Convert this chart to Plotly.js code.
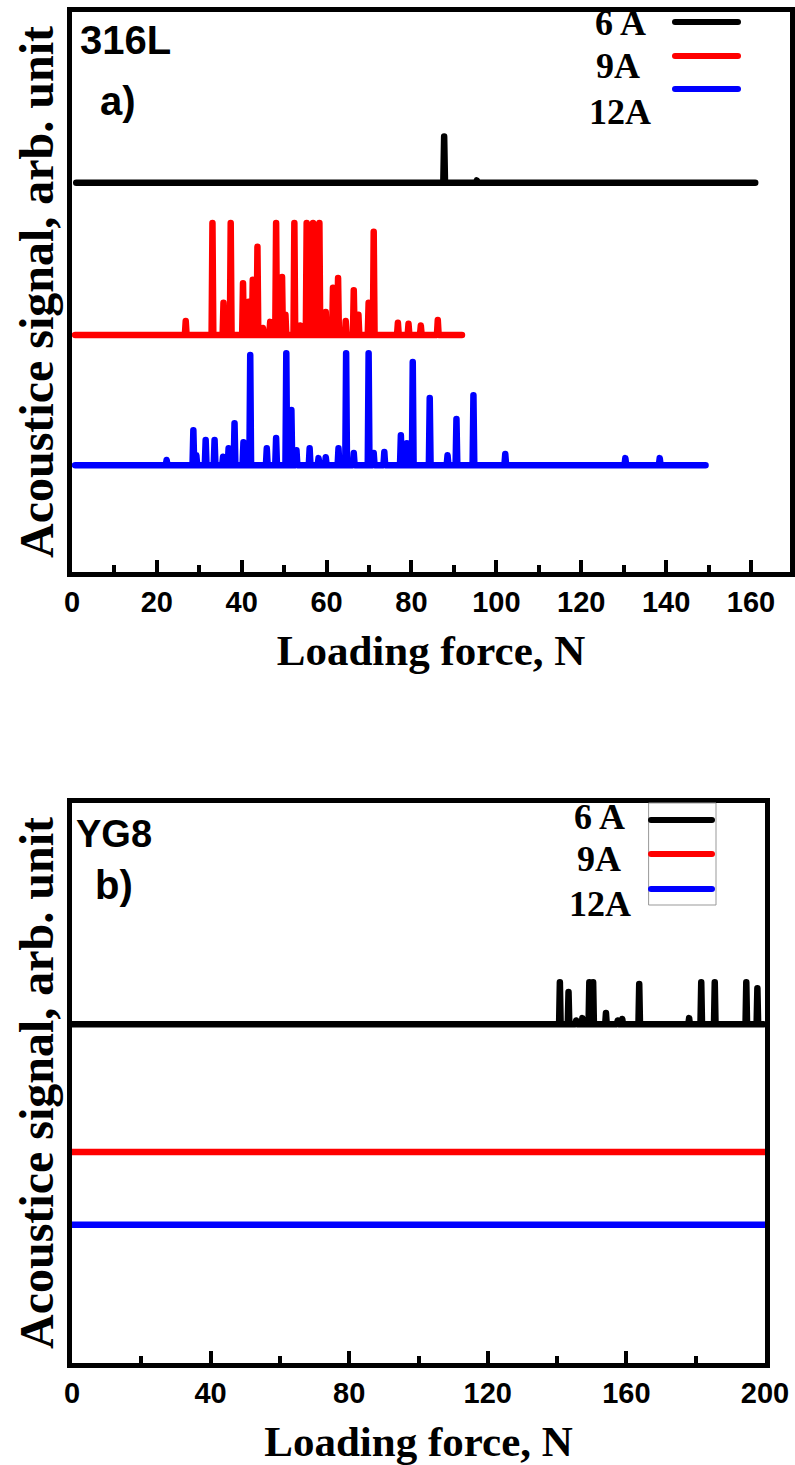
<!DOCTYPE html>
<html><head><meta charset="utf-8">
<script src="https://cdn.plot.ly/plotly-3.0.1.min.js"></script>
<style>
html,body{margin:0;padding:0;background:#fff;}
#chart{width:795px;height:1465px;}
path.js-line{stroke-linejoin:round !important;stroke-linecap:round !important;}
.shapelayer path{stroke-linecap:round;}
</style></head><body><div id="chart"></div>
<script>
// ---------- Panel a) 316L ----------
const a_label = '316L';
const a_tag = 'a)';
const a_xRange = [0, 169.2];
const a_yRange = [0, 12];
const a_6A_span = [1.0, 161.0];
const a_6A_base = 8.34;
const a_6A_force = [87.7, 95.4];
const a_6A_amp   = [0.99, 0.05];
const a_9A_span = [0.7, 91.9];
const a_9A_base = 5.08;
const a_9A_force = [26.8, 33.1, 35.7, 37.4, 40.3, 41.6, 42.6, 43.7, 45.0, 46.7, 48.1, 49.5, 50.3, 52.4, 53.8, 55.3, 56.8, 58.3, 59.8, 61.5, 62.7, 64.5, 66.4, 67.5, 69.9, 71.1, 76.8, 79.3, 82.2, 86.2];
const a_9A_amp   = [0.30, 2.40, 0.69, 2.40, 1.11, 0.71, 1.18, 1.89, 0.15, 0.28, 2.40, 1.24, 0.43, 2.40, 0.20, 2.40, 2.40, 2.40, 0.49, 1.01, 1.22, 0.30, 0.96, 0.43, 0.69, 2.21, 0.26, 0.24, 0.20, 0.32];
const a_12A_span = [0.7, 149.3];
const a_12A_base = 2.29;
const a_12A_force = [22.3, 28.6, 29.3, 31.5, 33.6, 35.6, 36.9, 38.3, 40.4, 42.0, 45.9, 48.1, 50.5, 51.7, 52.9, 56.0, 58.1, 59.8, 62.8, 64.6, 66.4, 69.9, 71.1, 73.6, 77.5, 78.9, 80.3, 84.3, 88.5, 90.6, 94.6, 102.1, 130.4, 138.5];
const a_12A_amp   = [0.11, 0.75, 0.21, 0.54, 0.54, 0.18, 0.36, 0.90, 0.49, 2.36, 0.36, 0.58, 2.40, 1.18, 0.32, 0.36, 0.15, 0.17, 0.36, 2.40, 0.26, 2.40, 0.26, 0.28, 0.64, 0.47, 2.21, 1.44, 0.21, 0.99, 1.50, 0.24, 0.15, 0.15];

// ---------- Panel b) YG8 ----------
const b_label = 'YG8';
const b_tag = 'b)';
const b_xRange = [0, 200];
const b_yRange = [0, 12];
const b_6A_span = [0, 199.5];
const b_6A_base = 7.26;
const b_6A_force = [140.8, 143.3, 145.5, 147.3, 149.3, 150.4, 154.1, 157.5, 158.8, 163.7, 178.1, 181.6, 185.5, 194.6, 197.8];
const b_6A_amp   = [0.90, 0.69, 0.08, 0.13, 0.90, 0.90, 0.24, 0.08, 0.11, 0.86, 0.13, 0.90, 0.90, 0.90, 0.77];
const b_9A_span = [0, 200];
const b_9A_base = 4.52;
const b_12A_span = [0, 200];
const b_12A_base = 2.96;

const seriesNames = ['6 A', '9A', '12A'];
const seriesColors = ['#000000', '#ff0000', '#0000ff'];

function build(span, base, force, amp, hw) {
  const xs = [span[0]], ys = [base];
  const idx = (force || []).map((f, i) => i).sort((i, j) => force[i] - force[j]);
  for (const i of idx) {
    xs.push(force[i] - hw, force[i], force[i] + hw);
    ys.push(base, base + amp[i], base);
  }
  xs.push(span[1]); ys.push(base);
  return {x: xs, y: ys};
}

const W = 795, H = 1465;
const px = v => v / W, py = v => 1 - v / H;

const traces = [];
const aData = [
  build(a_6A_span, a_6A_base, a_6A_force, a_6A_amp, 0.2),
  build(a_9A_span, a_9A_base, a_9A_force, a_9A_amp, 0.2),
  build(a_12A_span, a_12A_base, a_12A_force, a_12A_amp, 0.2)
];
const bData = [
  build(b_6A_span, b_6A_base, b_6A_force, b_6A_amp, 0.22),
  build(b_9A_span, b_9A_base, [], [], 0.2),
  build(b_12A_span, b_12A_base, [], [], 0.2)
];
aData.forEach((d, i) => traces.push({x: d.x, y: d.y, xaxis: 'x', yaxis: 'y', type: 'scatter', mode: 'lines', name: seriesNames[i], line: {color: seriesColors[i], width: 6.5}, showlegend: false}));
bData.forEach((d, i) => traces.push({x: d.x, y: d.y, xaxis: 'x2', yaxis: 'y2', type: 'scatter', mode: 'lines', name: seriesNames[i], line: {color: seriesColors[i], width: 6.5}, showlegend: false}));

const tickFont = {family: 'Liberation Sans, Arial, sans-serif', size: 29, weight: 'bold', color: '#000'};
const titleFont = {family: 'Liberation Serif, Times New Roman, serif', size: 43, weight: 'bold', color: '#000'};
const yTitleFont = {family: 'Liberation Serif, Times New Roman, serif', size: 48, weight: 'bold', color: '#000'};

function xAxis(domain, range, dtick, minorDtick, anchor) {
  return {domain, range, anchor, showline: true, linewidth: 5, linecolor: '#000', mirror: true,
    ticks: 'inside', ticklen: 12, tickwidth: 4, tickcolor: '#000', tick0: 0, dtick,
    minor: {ticks: 'inside', ticklen: 7, tickwidth: 4, tickcolor: '#000', dtick: minorDtick, showgrid: false},
    showgrid: false, zeroline: false, tickfont: tickFont, automargin: false,
    title: {text: 'Loading force, N', font: titleFont, standoff: 20}};
}
function yAxis(domain, range, anchor) {
  return {domain, range, anchor, showline: true, linewidth: 5, linecolor: '#000', mirror: true,
    ticks: '', showticklabels: false, showgrid: false, zeroline: false, automargin: false,
    title: {text: 'Acoustice signal, arb. unit', font: yTitleFont, standoff: 0}};
}

const labFont = {family: 'Liberation Sans, Arial, sans-serif', size: 40, weight: 'bold', color: '#000'};
const legFont = {family: 'Liberation Serif, Times New Roman, serif', size: 36, weight: 'bold', color: '#000'};
function ann(text, x, y, font) {
  return {text, x: px(x), y: py(y), xref: 'paper', yref: 'paper', showarrow: false, xanchor: 'center', yanchor: 'middle', font};
}
const annotations = [
  ann(a_label, 125, 40, labFont), ann(a_tag, 118, 101, labFont),
  ann(b_label, 114, 834, Object.assign({}, labFont, {size: 38})), ann(b_tag, 114, 885, labFont),
  ann(seriesNames[0], 620, 23, legFont), ann(seriesNames[1], 618, 66, legFont), ann(seriesNames[2], 620, 112, legFont),
  ann(seriesNames[0], 599, 817, legFont), ann(seriesNames[1], 599, 859, legFont), ann(seriesNames[2], 600, 904, legFont)
];
const legY_a = [22, 56, 89], legY_b = [820, 854, 889];
const shapes = [
  {type: 'rect', xref: 'paper', yref: 'paper', x0: px(649), x1: px(716), y0: py(905), y1: py(803), line: {color: '#999', width: 1}}
];
legY_a.forEach((y, i) => shapes.push({type: 'line', xref: 'paper', yref: 'paper', x0: px(675), x1: px(738), y0: py(y), y1: py(y), line: {color: seriesColors[i], width: 6}}));
legY_b.forEach((y, i) => shapes.push({type: 'line', xref: 'paper', yref: 'paper', x0: px(651), x1: px(712), y0: py(y), y1: py(y), line: {color: seriesColors[i], width: 6}}));

const layout = {
  width: W, height: H, margin: {l: 0, r: 0, t: 0, b: 0},
  paper_bgcolor: '#fff', plot_bgcolor: '#fff', showlegend: false,
  xaxis: xAxis([px(72), px(790)], a_xRange, 20, 10, 'y'),
  yaxis: yAxis([py(572), py(12)], a_yRange, 'x'),
  xaxis2: xAxis([px(72), px(765)], b_xRange, 40, 20, 'y2'),
  yaxis2: yAxis([py(1363), py(803)], b_yRange, 'x2'),
  annotations, shapes
};
Plotly.newPlot('chart', traces, layout, {staticPlot: true, displayModeBar: false});
</script></body></html>
